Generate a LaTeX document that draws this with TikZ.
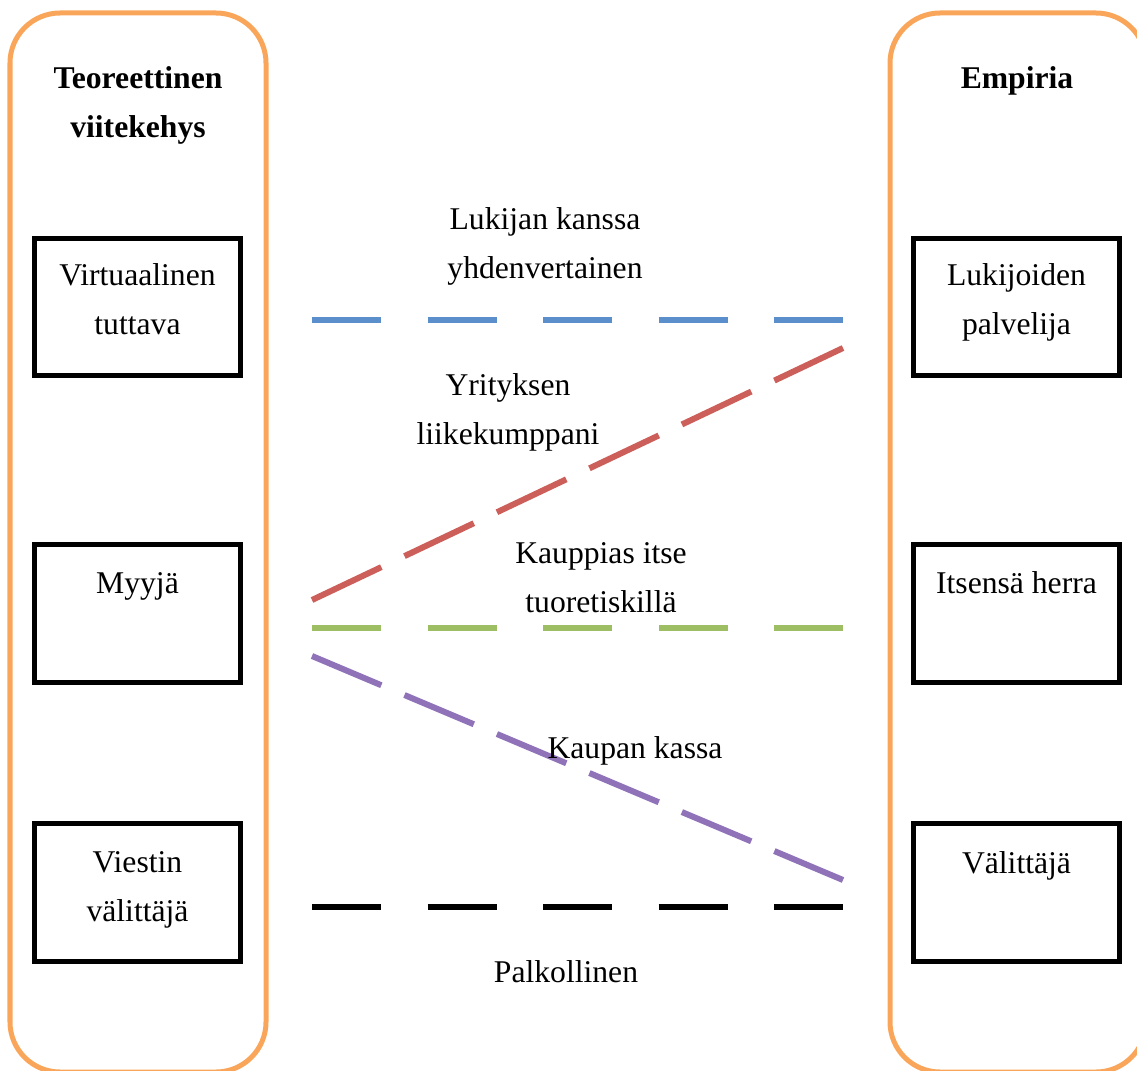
\documentclass[tikz,border=0pt]{standalone}
\usepackage{fontspec}
\setmainfont{Liberation Serif}
\usetikzlibrary{positioning}
\definecolor{PanelOrange}{HTML}{F9A65A}
\definecolor{LinkBlue}{HTML}{5A8FCC}
\definecolor{LinkRed}{HTML}{CD5F5A}
\definecolor{LinkGreen}{HTML}{9DBE62}
\definecolor{LinkPurple}{HTML}{8F72B8}

\begin{document}
\begin{tikzpicture}[x=0.01cm, y=-0.01cm,
  panel/.style={draw=PanelOrange, line width=0.05cm, rounded corners=0.5cm},
  box/.style={draw=black, line width=0.05cm, minimum width=2.06cm,
              minimum height=1.37cm, inner sep=0pt},
  lbl/.style={align=center, inner sep=0pt, anchor=base,
              font=\fontsize{9pt}{0.48cm}\selectfont},
  head/.style={lbl, font=\fontsize{9pt}{0.48cm}\selectfont\bfseries},
  link/.style={line width=0.06cm},
  hdash/.style={dash pattern=on 0.693cm off 0.462cm},
  ddash/.style={dash pattern=on 0.767cm off 0.256cm},
  pdash/.style={dash pattern=on 0.752cm off 0.251cm}]
  \useasboundingbox (0,0) rectangle (1137,1070);
  % side panels
  \draw[panel] (10,13) rectangle (266,1072);
  \draw[panel] (890,13) rectangle (1146,1072);
  % (anchor=base sits on the last line)
  \node[head] (theory) at (138,137) {Teoreettinen\\viitekehys};
  \node[head] (empiria) at (1017,89) {Empiria};
  % boxes, left
  \node[box] (tuttava) at (137.5,307) {};
  \node[box] (myyja) at (137.5,613.5) {};
  \node[box] (viestin) at (137.5,892.5) {};
  % boxes, right
  \node[box] (palvelija) at (1016.5,307) {};
  \node[box] (herra) at (1016.5,613.5) {};
  \node[box] (valittaja) at (1016.5,892.5) {};
  \node[lbl] (tuttavaT) at (137.5,334) {Virtuaalinen\\tuttava};
  \node[lbl] (myyjaT) at (137.5,593) {Myyjä};
  \node[lbl] (viestinT) at (137.5,921) {Viestin\\välittäjä};
  \node[lbl] (palvelijaT) at (1016.5,334) {Lukijoiden\\palvelija};
  \node[lbl] (herraT) at (1016.5,593) {Itsensä herra};
  \node[lbl] (valittajaT) at (1016.5,873) {Välittäjä};
  % line ends
  \coordinate (l1) at (312,320);
  \coordinate (l2) at (312,600);
  \coordinate (l3) at (312,628);
  \coordinate (l4) at (312,656);
  \coordinate (l5) at (312,907);
  \coordinate (r1) at (843,320);
  \coordinate (r2) at (843,348);
  \coordinate (r3) at (843,628);
  \coordinate (r4) at (843,880);
  \coordinate (r5) at (843,907);
  \draw[link, hdash, LinkBlue] (l1) -- (r1);
  \draw[link, ddash, LinkRed] (l2) -- (r2);
  \draw[link, hdash, LinkGreen] (l3) -- (r3);
  \draw[link, pdash, LinkPurple] (l4) -- (r4);
  \draw[link, hdash, black] (l5) -- (r5);
  % labels
  \node[lbl] (equal) at (545,278) {Lukijan kanssa\\yhdenvertainen};
  \node[lbl] (partner) at (508,444) {Yrityksen\\liikekumppani};
  \node[lbl] (merchant) at (601,612) {Kauppias itse\\tuoretiskillä};
  \node[lbl] (cashier) at (635,758) {Kaupan kassa};
  \node[lbl] (salaried) at (566,982) {Palkollinen};
\end{tikzpicture}
\end{document}
